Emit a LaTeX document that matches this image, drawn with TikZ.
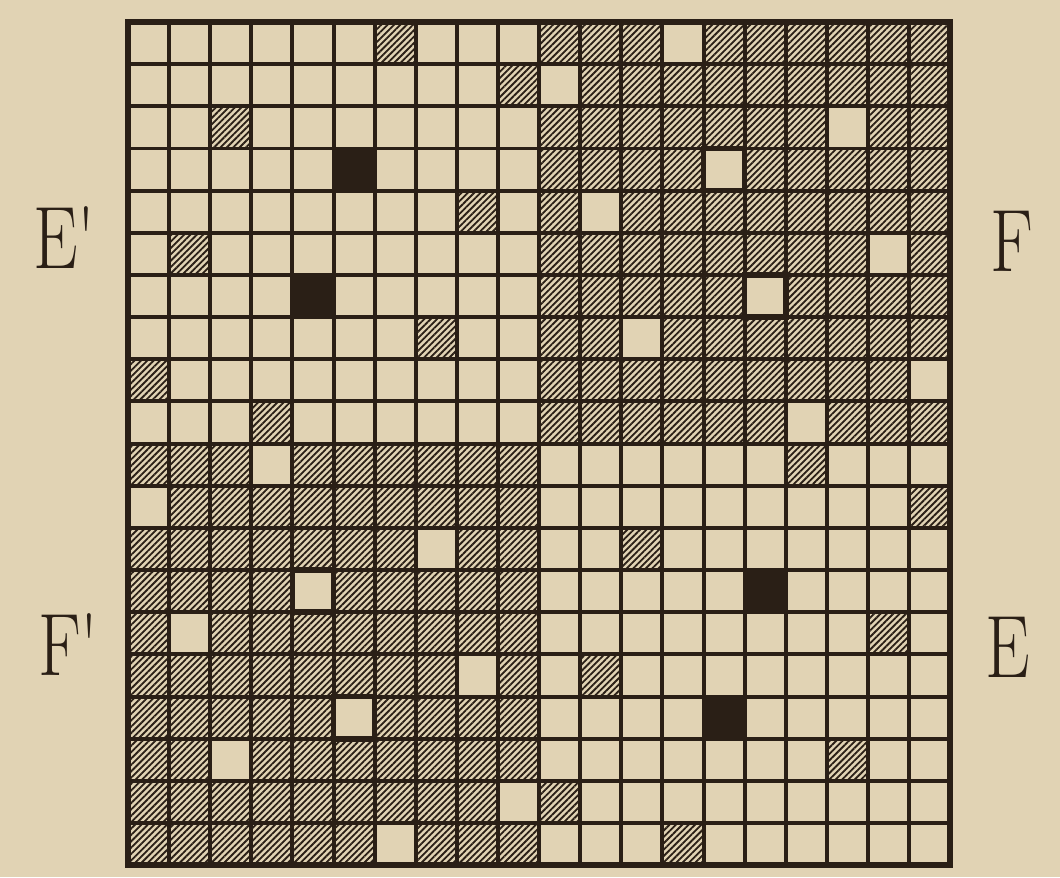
\documentclass[tikz,border=0pt]{standalone}
\usetikzlibrary{patterns.meta}
\definecolor{paper}{RGB}{225,211,180}
\definecolor{ink}{RGB}{42,31,22}
\begin{document}
\begin{tikzpicture}[x=0.025cm, y=-0.025cm,
  hatchcell/.style={pattern={Lines[angle=45, distance=3.2pt, line width=1.3pt]}, pattern color=ink},
  blackcell/.style={fill=ink},
  whitecell/.style={fill=paper},
  boldcell/.style={draw=ink, line width=4pt},
  gridline/.style={draw=ink, line width=2.8pt},
  letter/.style={font=\fontsize{63}{63}\selectfont, text=ink, inner sep=0pt, anchor=base west}
]
% paper
\fill[paper] (0,0) rectangle (1060,877);

\begin{scope}[shift={(128,22)}, x=1.0275cm, y=-1.05375cm]
  % hatched quarters F and F'
  \fill[hatchcell] (10,0) rectangle (20,10);
  \fill[hatchcell] (0,10) rectangle (10,20);
  % one odd cell per row in each quarter
  \foreach \r in {1,...,10} {
    \pgfmathtruncatemacro{\c}{mod(3*\r+3,10)+1}
    \pgfmathtruncatemacro{\m}{11-\c}
    \ifnum\r=4 \def\kind{blackcell}\else\ifnum\r=7 \def\kind{blackcell}\else\def\kind{hatchcell}\fi\fi
    \fill[\kind] (\c-1,\r-1) rectangle (\c,\r);
    \fill[\kind] (\c+9,\r+9) rectangle (\c+10,\r+10);
    \fill[whitecell] (\m+9,\r-1) rectangle (\m+10,\r);
    \fill[whitecell] (\m-1,\r+9) rectangle (\m,\r+10);
  }
  % grid
  \foreach \i in {0,...,20} {
    \draw[gridline] (\i,0) -- (\i,20);
    \draw[gridline] (0,\i) -- (20,\i);
  }
  \draw[ink, line width=4pt] (0,0) rectangle (20,20);
  % framed white cells
  \draw[boldcell] (15,3) rectangle (14,4);
  \draw[boldcell] (16,6) rectangle (15,7);
  \draw[boldcell] (5,13) rectangle (4,14);
  \draw[boldcell] (6,16) rectangle (5,17);
\end{scope}

% letters
\node[letter] (lblEp) at (33,268) {\scalebox{0.8}[1]{E\textquotesingle}};
\node[letter] (lblF) at (990,271) {\scalebox{0.8}[1]{F}};
\node[letter] (lblFp) at (38,675) {\scalebox{0.8}[1]{F\textquotesingle}};
\node[letter] (lblE) at (985,677) {\scalebox{0.8}[1]{E}};
\end{tikzpicture}
\end{document}
